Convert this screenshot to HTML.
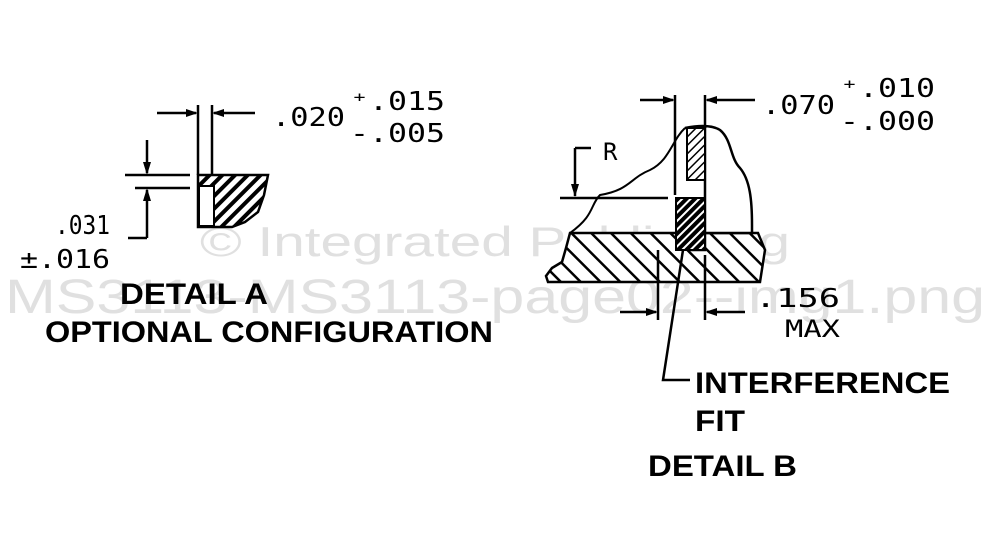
<!DOCTYPE html>
<html><head><style>
html,body{margin:0;padding:0;background:#fff;}
svg{display:block;}
.m{font-family:"DejaVu Sans Mono","Liberation Mono",monospace;fill:#000;}
.b{font-family:"Liberation Sans",sans-serif;font-weight:bold;fill:#000;}
.w{font-family:"Liberation Sans",sans-serif;fill:#e0e0e0;}
</style></head><body>
<svg width="991" height="538" viewBox="0 0 991 538" xmlns="http://www.w3.org/2000/svg">
<defs>
<pattern id="h1" width="9" height="9" patternUnits="userSpaceOnUse" patternTransform="rotate(45)">
<rect width="9" height="9" fill="#fff"/><rect width="4" height="9" fill="#000"/></pattern>
<pattern id="h2" width="14" height="14" patternUnits="userSpaceOnUse" patternTransform="rotate(-45)">
<rect width="14" height="14" fill="#fff"/><rect width="2.5" height="14" fill="#000"/></pattern>
<pattern id="h3" width="6" height="6" patternUnits="userSpaceOnUse" patternTransform="rotate(45)">
<rect width="6" height="6" fill="#fff"/><rect width="4" height="6" fill="#000"/></pattern>
<pattern id="h4" width="6" height="6" patternUnits="userSpaceOnUse" patternTransform="rotate(45)">
<rect width="6" height="6" fill="#fff"/><rect width="1.5" height="6" fill="#000"/></pattern>
</defs>
<!-- watermark -->
<text class="w" x="200" y="256" font-size="42" textLength="590" lengthAdjust="spacingAndGlyphs">© Integrated Publishing</text>
<text class="w" x="5" y="313" font-size="48" textLength="980" lengthAdjust="spacingAndGlyphs">MS3113-MS3113-page02--img1.png</text>

<g stroke="#000" stroke-width="2.5" fill="none">
<line x1="198" y1="105" x2="198" y2="175"/>
<line x1="212" y1="105" x2="212" y2="175"/>
<line x1="157" y1="113" x2="196" y2="113"/>
<line x1="214" y1="113" x2="255" y2="113"/>
<line x1="125" y1="175" x2="190" y2="175"/>
<line x1="135" y1="188" x2="190" y2="188"/>
<line x1="147" y1="140" x2="147" y2="173"/>
<line x1="147" y1="190" x2="147" y2="238"/>
<line x1="128" y1="238" x2="147" y2="238"/>
</g>
<path d="M198,175 L268,175 L264,195 L258,212 L245,222 L232,227 L198,227 Z" fill="url(#h1)" stroke="#000" stroke-width="2.5"/>
<rect x="199" y="186" width="15" height="40" fill="#fff" stroke="#000" stroke-width="2"/>
<g fill="#000">
<polygon points="198,113 186,109 186,117"/>
<polygon points="212,113 224,109 224,117"/>
<polygon points="147,175 143,162 151,162"/>
<polygon points="147,188 143,201 151,201"/>
</g>
<text class="m" x="272" y="126" font-size="26" textLength="73" lengthAdjust="spacingAndGlyphs">.020</text>
<text class="m" x="350" y="110" font-size="26" textLength="95" lengthAdjust="spacingAndGlyphs">⁺.015</text>
<text class="m" x="350" y="142" font-size="26" textLength="95" lengthAdjust="spacingAndGlyphs">-.005</text>
<text class="m" x="55" y="234" font-size="26" textLength="55" lengthAdjust="spacingAndGlyphs">.031</text>
<text class="m" x="20" y="268" font-size="26" textLength="90" lengthAdjust="spacingAndGlyphs">±.016</text>
<text class="b" x="120" y="304" font-size="30" textLength="148" lengthAdjust="spacingAndGlyphs">DETAIL A</text>
<text class="b" x="45" y="342" font-size="30" textLength="448" lengthAdjust="spacingAndGlyphs">OPTIONAL CONFIGURATION</text>

<!-- Detail B -->
<path d="M570,233 L690,233 L690,250 L705,250 L705,233 L758,233 L765,250 L760,282 L548,282 L546,276 L552,268 L562,262 L566,248 Z" fill="url(#h2)" stroke="#000" stroke-width="2.5"/>
<path d="M685,128 C700,125 712,125 720,130 C732,140 730,158 740,168 C750,180 752,200 752,225 L752,233 L705,233 L705,128 Z" fill="#fff" stroke="#000" stroke-width="2.5"/>
<path d="M685,128 C672,140 670,160 650,170 C630,178 630,190 600,195 C590,205 595,215 570,233" fill="none" stroke="#000" stroke-width="2"/>
<rect x="676" y="198" width="29" height="52" fill="url(#h3)" stroke="#000" stroke-width="2"/>
<rect x="687" y="128" width="18" height="52" fill="url(#h4)" stroke="#000" stroke-width="2"/>
<g stroke="#000" stroke-width="2.5" fill="none">
<line x1="675" y1="95" x2="675" y2="195"/>
<line x1="705" y1="95" x2="705" y2="128"/>
<line x1="640" y1="100" x2="673" y2="100"/>
<line x1="707" y1="100" x2="755" y2="100"/>
<line x1="575" y1="148" x2="591" y2="148"/>
<line x1="575" y1="148" x2="575" y2="196"/>
<line x1="560" y1="198" x2="668" y2="198"/>
<line x1="658" y1="250" x2="658" y2="320"/>
<line x1="705" y1="255" x2="705" y2="320"/>
<line x1="620" y1="312" x2="656" y2="312"/>
<line x1="707" y1="312" x2="745" y2="312"/>
<polyline points="683,250 663,380 690,380"/>
</g>
<g fill="#000">
<polygon points="675,100 663,96 663,104"/>
<polygon points="705,100 717,96 717,104"/>
<polygon points="575,197 571,184 579,184"/>
<polygon points="658,312 646,308 646,316"/>
<polygon points="705,312 717,308 717,316"/>
</g>
<text class="m" x="603" y="160" font-size="24">R</text>
<text class="m" x="762" y="114" font-size="26" textLength="73" lengthAdjust="spacingAndGlyphs">.070</text>
<text class="m" x="840" y="97" font-size="26" textLength="95" lengthAdjust="spacingAndGlyphs">⁺.010</text>
<text class="m" x="840" y="130" font-size="26" textLength="95" lengthAdjust="spacingAndGlyphs">-.000</text>
<text class="m" x="755" y="307" font-size="26" textLength="85" lengthAdjust="spacingAndGlyphs">.156</text>
<text class="m" x="785" y="337" font-size="24" textLength="55" lengthAdjust="spacingAndGlyphs">MAX</text>
<text class="b" x="695" y="393" font-size="30" textLength="255" lengthAdjust="spacingAndGlyphs">INTERFERENCE</text>
<text class="b" x="695" y="431" font-size="30" textLength="50" lengthAdjust="spacingAndGlyphs">FIT</text>
<text class="b" x="648" y="476" font-size="30" textLength="149" lengthAdjust="spacingAndGlyphs">DETAIL B</text>
</svg>
</body></html>
